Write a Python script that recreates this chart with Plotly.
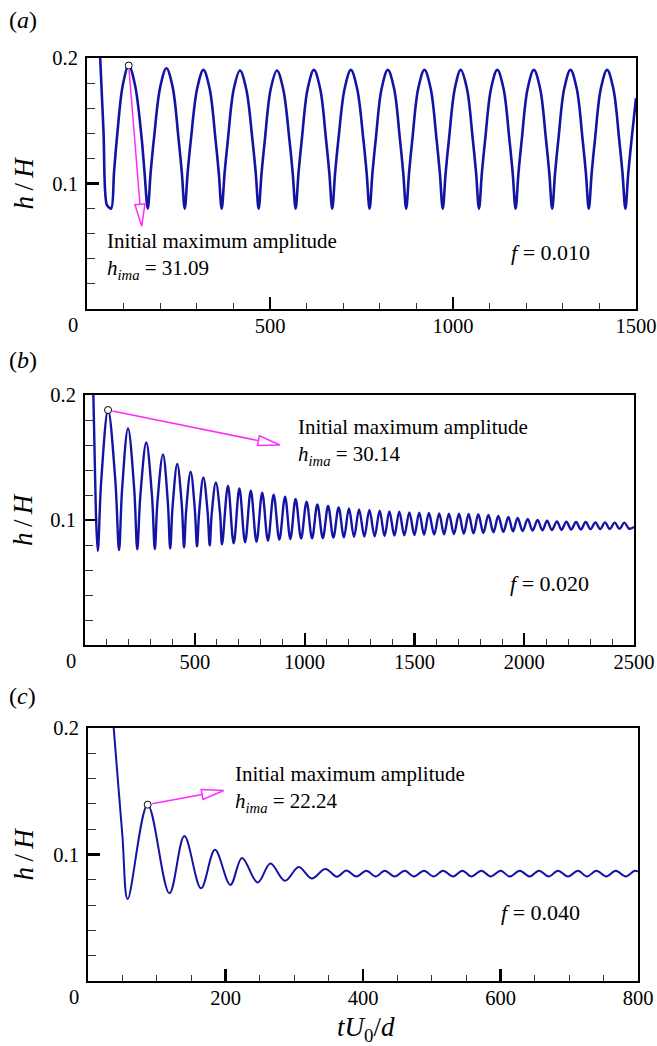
import math
import plotly.graph_objects as go

W, H = 657, 1046
FONT = "Liberation Serif, Times New Roman, serif"
BLUE = "#1414a4"
MAGENTA = "#ff2bff"

# ---------------- panel (a): f = 0.010 ----------------
t_a = [30, 36, 45, 54, 60, 66, 74, 82, 98, 114, 131, 149, 157, 166,
       174, 183, 200, 217, 234, 250, 259, 267,
       275, 284, 301, 318, 335, 351, 360, 368,
       376, 385, 401, 418, 435, 452, 461, 469,
       477, 486, 502, 519, 536, 553, 562, 570,
       578, 587, 603, 620, 637, 653, 662, 670,
       678, 687, 704, 721, 738, 755, 764, 772,
       780, 789, 805, 822, 839, 855, 864, 872,
       880, 889, 905, 922, 939, 955, 964, 972,
       980, 989, 1005, 1021, 1038, 1054, 1063, 1071,
       1079, 1088, 1104, 1121, 1138, 1154, 1163, 1171,
       1179, 1188, 1204, 1221, 1238, 1254, 1263, 1271,
       1279, 1288, 1304, 1321, 1338, 1354, 1363, 1371,
       1379, 1388, 1404, 1421, 1438, 1454, 1463, 1471,
       1479, 1488, 1500]
h_a = [0.236, 0.2, 0.142, 0.083, 0.081, 0.08, 0.1095, 0.137, 0.1787, 0.194, 0.1787, 0.137, 0.1095, 0.08,
       0.109, 0.1359, 0.1768, 0.1918, 0.1768, 0.1359, 0.109, 0.08,
       0.1086, 0.1353, 0.1757, 0.1905, 0.1757, 0.1353, 0.1086, 0.08,
       0.1085, 0.135, 0.1753, 0.190, 0.1753, 0.135, 0.1085, 0.08,
       0.1085, 0.135, 0.1753, 0.190, 0.1753, 0.135, 0.1085, 0.08,
       0.1086, 0.1353, 0.1757, 0.1905, 0.1757, 0.1353, 0.1086, 0.08,
       0.1086, 0.1353, 0.1757, 0.1905, 0.1757, 0.1353, 0.1086, 0.08,
       0.1086, 0.1353, 0.1757, 0.1905, 0.1757, 0.1353, 0.1086, 0.08,
       0.1086, 0.1353, 0.1757, 0.1905, 0.1757, 0.1353, 0.1086, 0.08,
       0.1086, 0.1353, 0.1757, 0.1905, 0.1757, 0.1353, 0.1086, 0.08,
       0.1086, 0.1353, 0.1757, 0.1905, 0.1757, 0.1353, 0.1086, 0.08,
       0.1086, 0.1353, 0.1757, 0.1905, 0.1757, 0.1353, 0.1086, 0.08,
       0.1086, 0.1353, 0.1757, 0.1905, 0.1757, 0.1353, 0.1086, 0.08,
       0.1086, 0.1353, 0.1757, 0.1905, 0.1757, 0.1353, 0.1086, 0.08,
       0.1086, 0.1353, 0.168]
peak_a = (114, 0.194)
tip_a = (149.5, 0.066)

# ---------------- panel (b): f = 0.020 ----------------
t_b = [33, 38, 58, 74, 105, 138, 155, 169, 196, 224, 238, 252, 279, 305, 318,
       330, 355, 377, 388, 399, 420, 441, 451, 461, 481, 500, 510, 520, 539,
       558, 568, 577, 596, 615, 624,
       651, 677, 703, 729, 755, 781, 807, 833, 859, 885, 911, 935, 959, 984,
       1009, 1034, 1058, 1083, 1107, 1131, 1155, 1179, 1202, 1225, 1248, 1272,
       1295, 1319, 1342, 1364, 1386, 1409, 1431, 1454, 1477, 1500, 1522, 1544,
       1566, 1590, 1613, 1635, 1657, 1680, 1703, 1725, 1747, 1769, 1791, 1814,
       1837, 1860, 1882, 1905, 1928, 1949, 1970, 1993, 2016, 2038, 2061, 2083,
       2104, 2126, 2149, 2170, 2192, 2214, 2236, 2258, 2280, 2302, 2324, 2346,
       2368, 2390, 2412, 2434, 2456, 2478, 2500]
h_b = [0.23, 0.2, 0.0752, 0.1316, 0.188, 0.132, 0.076, 0.1247, 0.1733, 0.1249,
       0.0765, 0.1193, 0.162, 0.1194, 0.0768,
       0.1147, 0.1525, 0.1149, 0.0773, 0.1111, 0.1448, 0.1115, 0.0781, 0.1084,
       0.1387, 0.1088, 0.0789, 0.1065, 0.1341,
       0.1069, 0.0797, 0.1049, 0.1301, 0.1053, 0.0805,
       0.1275, 0.0813, 0.1253, 0.0821, 0.1235, 0.0827, 0.1219, 0.0835, 0.1203,
       0.0843, 0.1187, 0.0848, 0.1168, 0.0852,
       0.1147, 0.0853, 0.1125, 0.0856, 0.1112, 0.0859, 0.1101, 0.0862, 0.1093,
       0.0865, 0.1085, 0.0867,
       0.108, 0.087, 0.1075, 0.0872, 0.1069, 0.0875, 0.1067, 0.0877, 0.1061,
       0.088, 0.1059, 0.0882,
       0.1056, 0.0884, 0.1053, 0.0886, 0.1051, 0.0888, 0.105, 0.089, 0.1049,
       0.0893, 0.1046, 0.0897,
       0.104, 0.0901, 0.1032, 0.0905, 0.1024, 0.0909, 0.1016, 0.0912, 0.1008,
       0.0915, 0.1, 0.0917,
       0.0995, 0.092, 0.0989, 0.0922, 0.0987, 0.0924, 0.0984, 0.0925, 0.0984,
       0.0926, 0.0981, 0.0927,
       0.0981, 0.0928, 0.0979, 0.0929, 0.0979, 0.093, 0.0945]
peak_b = (105, 0.188)
tip_b = (888, 0.16)

# ---------------- panel (c): f = 0.040 ----------------
t_c = [33, 37.4, 50, 57.7, 86.8, 118.4, 140.2, 164.4, 184.7, 207.1, 224,
       246.8, 265.3, 286.5, 306.5, 325.4, 345.3, 362.2, 375.8, 390.4, 405,
       418.5, 431.6, 446.1, 460.7, 474.2, 488.7, 502.8, 516.4, 530.9, 544.6,
       557.7, 572.2, 585.7, 600.3, 613.4, 628, 642.5, 656, 670.1, 683.6,
       698.2, 712.7, 725.8, 739.5, 754, 767.6, 782.1, 795.2, 800]
h_c = [0.232, 0.2, 0.115, 0.0648, 0.1394, 0.0693, 0.1146, 0.0733, 0.1037,
       0.076, 0.0973, 0.0778, 0.0928, 0.0792, 0.0901, 0.081, 0.0885, 0.0824,
       0.0874, 0.0826, 0.0872, 0.0826, 0.0872, 0.0826, 0.0872, 0.0826,
       0.0872, 0.0826, 0.0872, 0.0826, 0.0872, 0.0826, 0.0872, 0.0826,
       0.0872, 0.0826, 0.0872, 0.0826, 0.0872, 0.0826, 0.0872, 0.0826,
       0.0872, 0.0826, 0.0872, 0.0826, 0.0872, 0.0826, 0.0872, 0.0865]
peak_c = (86.8, 0.1394)
tip_c = (197.4, 0.1506)

y_ticks = [0.1, 0.2]
y_minor = [0.02, 0.04, 0.06, 0.08, 0.12, 0.14, 0.16, 0.18]

panels = [
    dict(letter="a", t=t_a, h=h_a, peak=peak_a, tip=tip_a, box=(87, 636, 58, 309),
         xmax=1500, xticks=[0, 500, 1000, 1500], xminor=100, hval="31.09", fval="0.010",
         txt=(105, 256), ftxt=(550, 253), lab_y=20, lw=2.6),
    dict(letter="b", t=t_b, h=h_b, peak=peak_b, tip=tip_b, box=(85, 634, 395, 645),
         xmax=2500, xticks=[0, 500, 1000, 1500, 2000, 2500], xminor=100, hval="30.14",
         fval="0.020", txt=(296, 442), ftxt=(549, 583), lab_y=360, lw=2.4),
    dict(letter="c", t=t_c, h=h_c, peak=peak_c, tip=tip_c, box=(88, 638, 728, 981),
         xmax=800, xticks=[0, 200, 400, 600, 800], xminor=50, hval="22.24",
         fval="0.040", txt=(233, 789), ftxt=(540, 912), lab_y=696, lw=2.0),
]

fig = go.Figure()
layout = dict(
    width=W, height=H, margin=dict(l=0, r=0, t=0, b=0, autoexpand=False),
    paper_bgcolor="white", plot_bgcolor="white", showlegend=False,
    font=dict(family=FONT, size=21, color="black"),
)
annotations = []
shapes = []


def px(x):
    return x / W


def py(y):
    return 1 - y / H


for i, p in enumerate(panels):
    n = "" if i == 0 else str(i + 1)
    xa, ya = "x" + n, "y" + n
    l, r, t, b = p["box"]
    xmax = p["xmax"]
    fig.add_trace(go.Scatter(
        x=p["t"], y=p["h"], mode="lines", xaxis=xa, yaxis=ya,
        line=dict(color=BLUE, width=p["lw"], shape="spline", smoothing=1.0),
        hoverinfo="skip"))
    fig.add_trace(go.Scatter(
        x=[p["peak"][0]], y=[p["peak"][1]], mode="markers", xaxis=xa, yaxis=ya,
        marker=dict(symbol="circle", size=7, color="white",
                    line=dict(color="black", width=1)),
        hoverinfo="skip"))
    xminor = [v for v in range(0, xmax + 1, p["xminor"]) if v not in p["xticks"]]
    layout["xaxis" + n] = dict(
        domain=[px(l), px(r)], anchor=ya, range=[0, xmax], automargin=False,
        tickmode="array", tickvals=p["xticks"],
        ticktext=[""] + [str(v) for v in p["xticks"][1:]],
        ticks="inside", ticklen=12, tickwidth=2.2, tickcolor="black",
        minor=dict(tickmode="array", tickvals=xminor, ticks="inside",
                   ticklen=6, tickwidth=1, tickcolor="#333"),
        showline=True, linewidth=2, linecolor="black", mirror=True,
        showgrid=False, zeroline=False, ticklabelstandoff=-3,
        tickfont=dict(family=FONT, size=20.5, color="black"), fixedrange=True)
    layout["yaxis" + n] = dict(
        domain=[py(b), py(t)], anchor=xa, range=[0, 0.2], automargin=False,
        tickmode="array", tickvals=y_ticks, ticktext=["0.1", "0.2"],
        ticks="inside", ticklen=12, tickwidth=2.2, tickcolor="black",
        minor=dict(tickmode="array", tickvals=y_minor, ticks="inside",
                   ticklen=8, tickwidth=1, tickcolor="#333"),
        showline=True, linewidth=2, linecolor="black", mirror=True,
        showgrid=False, zeroline=False, ticklabelstandoff=3,
        tickfont=dict(family=FONT, size=20.5, color="black"), fixedrange=True)

    # "0" label of the x axis (set slightly left of the corner)
    annotations.append(dict(text="0", x=px(l - 14), y=py(b + 16), xref="paper",
                            yref="paper", xanchor="center", yanchor="middle",
                            showarrow=False, font=dict(family=FONT, size=20.5)))
    # y-axis title
    annotations.append(dict(text="<i>h</i>\u2009/\u2009<i>H</i>", x=px(23),
                            y=py((t + b) / 2), xref="paper", yref="paper",
                            textangle=-90, xanchor="center", yanchor="middle",
                            showarrow=False, font=dict(family=FONT, size=27)))
    # panel letter
    annotations.append(dict(text="(<i>%s</i>)" % p["letter"], x=px(7), y=py(p["lab_y"]),
                            xref="paper", yref="paper", xanchor="left",
                            yanchor="middle", showarrow=False,
                            font=dict(family=FONT, size=24)))
    # annotation text
    annotations.append(dict(
        text="Initial maximum amplitude<br><i>h<sub>ima</sub></i> = %s" % p["hval"],
        x=px(p["txt"][0]), y=py(p["txt"][1]), xref="paper", yref="paper",
        xanchor="left", yanchor="middle", align="left", showarrow=False,
        font=dict(family=FONT, size=21)))
    annotations.append(dict(text="<i>f</i> = %s" % p["fval"], x=px(p["ftxt"][0]),
                            y=py(p["ftxt"][1]), xref="paper", yref="paper",
                            xanchor="center", yanchor="middle", showarrow=False,
                            font=dict(family=FONT, size=22)))
    # magenta arrow: line + hollow triangular head
    sx = (r - l) / xmax
    sy = (b - t) / 0.2
    dxp = (p["tip"][0] - p["peak"][0]) * sx
    dyp = (p["tip"][1] - p["peak"][1]) * sy
    L = math.hypot(dxp, dyp)
    ux, uy = dxp / L, dyp / L
    nx, ny = -uy, ux
    HL, HW = 22, 5
    bx, by = -HL * ux, -HL * uy
    path = "M 0 0 L %.2f %.2f L %.2f %.2f Z" % (bx + HW * nx, by + HW * ny,
                                               bx - HW * nx, by - HW * ny)
    annotations.append(dict(text="", x=p["tip"][0], y=p["tip"][1], xref=xa, yref=ya,
                            ax=p["peak"][0], ay=p["peak"][1], axref=xa, ayref=ya,
                            showarrow=True, arrowhead=0, arrowwidth=1.5,
                            arrowcolor=MAGENTA, standoff=HL, startstandoff=3))
    shapes.append(dict(type="path", xref=xa, yref=ya, xsizemode="pixel",
                       ysizemode="pixel", xanchor=p["tip"][0], yanchor=p["tip"][1],
                       path=path, line=dict(color=MAGENTA, width=1.5),
                       fillcolor="white"))

# x-axis title
annotations.append(dict(text="<i>tU</i><sub>0</sub>/<i>d</i>", x=px(366), y=py(1029),
                        xref="paper", yref="paper", xanchor="center",
                        yanchor="middle", showarrow=False,
                        font=dict(family=FONT, size=27)))

layout["annotations"] = annotations
layout["shapes"] = shapes
fig.update_layout(**layout)
# remove the browser's default 8px body margin so the figure fills the window
fig.write_html("out.html",
               config={"displayModeBar": False, "staticPlot": True},
               post_script="document.body.style.margin='0';"
                           "document.body.style.overflow='hidden';")
